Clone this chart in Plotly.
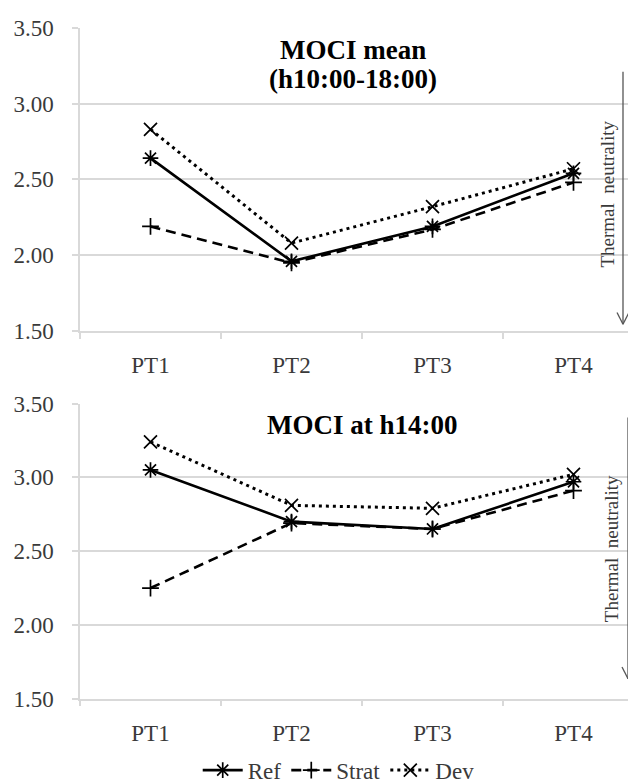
import plotly.graph_objects as go

categories = ["PT1", "PT2", "PT3", "PT4"]

# Top panel: MOCI mean (h10:00-18:00)
ref_mean = [2.64, 1.96, 2.19, 2.54]
strat_mean = [2.19, 1.95, 2.17, 2.48]
dev_mean = [2.83, 2.08, 2.32, 2.57]

# Bottom panel: MOCI at h14:00
ref_14 = [3.05, 2.70, 2.65, 2.97]
strat_14 = [2.25, 2.69, 2.65, 2.91]
dev_14 = [3.24, 2.81, 2.79, 3.02]

series_names = ["Ref", "Strat", "Dev"]
y_ticks = [1.5, 2.0, 2.5, 3.0, 3.5]

W, H = 636, 784
SERIF = "Liberation Serif"
TXT = "#3a3a3a"
GRID = "#d9d9d9"

styles = {
    "Ref": dict(dash="solid", width=2.6, symbol="asterisk-open", size=13),
    "Strat": dict(dash="10px,6px", width=2.6, symbol="cross-thin-open", size=12),
    "Dev": dict(dash="3px,4px", width=3, symbol="x-thin-open", size=13),
}

fig = go.Figure()
panels = [
    ("x", "y", [ref_mean, strat_mean, dev_mean], True),
    ("x2", "y2", [ref_14, strat_14, dev_14], False),
]
for xa, ya, vals, show in panels:
    for name, v in zip(series_names, vals):
        s = styles[name]
        fig.add_trace(go.Scatter(
            x=categories, y=v, name=name, xaxis=xa, yaxis=ya,
            mode="lines+markers", showlegend=show,
            line=dict(color="black", width=s["width"], dash=s["dash"]),
            marker=dict(symbol=s["symbol"], size=s["size"], color="black",
                        line=dict(color="black", width=1.7)),
        ))

x_dom = [72 / W, 1.0]
top_dom = [1 - 329 / H, 1 - 20 / H]
bot_dom = [1 - 703.3 / H, 1 - 402.7 / H]

xcommon = dict(
    domain=x_dom, type="category", range=[-0.5, 3.5],
    showgrid=False, showline=True, linecolor=GRID, linewidth=1.5,
    ticks="outside", tickson="boundaries", ticklen=6, tickcolor=GRID, tickwidth=1.5,
    tickfont=dict(family=SERIF, size=23, color=TXT),
    ticklabelstandoff=13, automargin=False, fixedrange=True,
)
ycommon = dict(
    range=[1.5, 3.5], tickvals=y_ticks, tickformat=".2f",
    showgrid=True, gridcolor=GRID, gridwidth=1.5,
    showline=True, linecolor=GRID, linewidth=1.5,
    ticks="outside", ticklen=6, tickcolor=GRID, tickwidth=1.5,
    tickfont=dict(family=SERIF, size=23, color=TXT),
    ticklabelstandoff=14, zeroline=False, automargin=False, fixedrange=True,
)

fig.update_layout(
    width=W, height=H,
    margin=dict(l=0, r=0, t=0, b=0),
    paper_bgcolor="white", plot_bgcolor="white",
    font=dict(family=SERIF),
    xaxis=dict(anchor="y", **xcommon),
    yaxis=dict(anchor="x", domain=top_dom, **ycommon),
    xaxis2=dict(anchor="y2", **xcommon),
    yaxis2=dict(anchor="x2", domain=bot_dom, **ycommon),
    legend=dict(orientation="h", x=0.52, xanchor="center", y=1 - 776 / H, yanchor="middle",
                font=dict(family=SERIF, size=23, color=TXT), itemwidth=40,
                bgcolor="rgba(0,0,0,0)", tracegroupgap=0),
    showlegend=True,
)

def px(xp):
    return xp / W

def py(yp):
    return 1 - yp / H

ann = []
# Titles
ann.append(dict(text="<b>MOCI mean</b>", x=px(345), y=py(43), xref="paper", yref="paper",
                showarrow=False, font=dict(family=SERIF, size=27, color="black"),
                xanchor="center", yanchor="middle"))
ann.append(dict(text="<b>(h10:00-18:00)</b>", x=px(345), y=py(72), xref="paper", yref="paper",
                showarrow=False, font=dict(family=SERIF, size=27, color="black"),
                xanchor="center", yanchor="middle"))
ann.append(dict(text="<b>MOCI at h14:00</b>", x=px(354), y=py(425), xref="paper", yref="paper",
                showarrow=False, font=dict(family=SERIF, size=27, color="black"),
                xanchor="center", yanchor="middle"))
# Thermal neutrality labels
for cx, cy in [(600, 190), (603, 551)]:
    ann.append(dict(text="Thermal  neutrality", x=px(cx), y=py(cy), xref="paper", yref="paper",
                    showarrow=False, textangle=-90,
                    font=dict(family=SERIF, size=19, color=TXT),
                    xanchor="center", yanchor="middle"))
fig.update_layout(annotations=ann)

# Arrows (down-pointing, open heads)
shapes = []
for ax_, y0, y1 in [(615, 65, 322), (620, 417, 683)]:
    shapes.append(dict(type="line", xref="paper", yref="paper",
                       x0=px(ax_), x1=px(ax_), y0=py(y0), y1=py(y1),
                       line=dict(color="#555555", width=1.3)))
    shapes.append(dict(type="line", xref="paper", yref="paper",
                       x0=px(ax_ - 6), x1=px(ax_), y0=py(y1 - 12), y1=py(y1),
                       line=dict(color="#555555", width=1.3)))
    shapes.append(dict(type="line", xref="paper", yref="paper",
                       x0=px(ax_ + 6), x1=px(ax_), y0=py(y1 - 12), y1=py(y1),
                       line=dict(color="#555555", width=1.3)))
fig.update_layout(shapes=shapes)

fig.write_html("out.html")
